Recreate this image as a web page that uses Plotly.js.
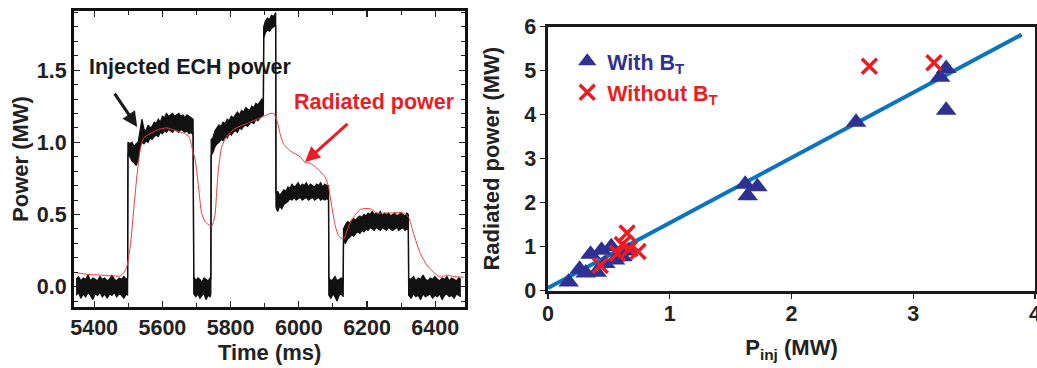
<!DOCTYPE html>
<html><head><meta charset="utf-8">
<script src="https://cdn.plot.ly/plotly-3.0.1.min.js"></script>
<style>html,body{margin:0;padding:0;background:#fff}#chart{width:1037px;height:368px}</style>
</head><body><div id="chart"></div>
<script>
// ---- Left panel: injected ECH power (noisy band read as upper / lower edge) ----
const echTime = [
 5347,5354,5361,5368,5375,5382,5389,5396,5403,5410,5417,5424,5431,5438,5445,5452,5459,5466,5473,5480,5487,5494,5498,
 5499,5505,5511,5517,5523,5529,5535,5540,5546,5552,5558,5564,5570,5576,5582,5588,5594,5600,5606,5612,5618,5624,5630,5636,5642,5648,5654,5660,5666,5672,5678,5684,5690,
 5692,5698,5704,5710,5716,5722,5728,5734,5740,5742,
 5743,5748,5754,5760,5766,5772,5778,5784,5790,5796,5802,5808,5814,5820,5826,5832,5838,5844,5850,5856,5862,5868,5874,5880,5886,5892,5896,
 5897,5902,5908,5914,5920,5926,5932,
 5933,5938,5944,5950,5956,5962,5968,5974,5980,5986,5992,5998,6004,6010,6016,6022,6028,6034,6040,6046,6052,6058,6064,6070,6076,6082,6087,
 6088,6094,6100,6106,6112,6118,6124,6130,
 6131,6137,6143,6149,6155,6161,6167,6173,6179,6185,6191,6197,6203,6209,6215,6221,6227,6233,6239,6245,6251,6257,6263,6269,6275,6281,6287,6293,6299,6305,6311,6317,6321,
 6322,6329,6336,6343,6350,6357,6364,6371,6378,6385,6392,6399,6406,6413,6420,6427,6434,6441,6448,6455,6462,6469,6475
];
const echHigh = [
 0.05,0.07,0.04,0.06,0.05,0.08,0.04,0.06,0.05,0.04,0.07,0.05,0.06,0.04,0.05,0.08,0.05,0.04,0.06,0.05,0.07,0.05,0.06,
 1.00,0.99,1.00,0.97,0.99,1.00,1.10,1.16,1.09,1.08,1.12,1.10,1.11,1.14,1.13,1.16,1.14,1.18,1.17,1.20,1.18,1.19,1.20,1.18,1.19,1.20,1.18,1.19,1.17,1.19,1.18,1.17,1.16,
 0.07,0.04,0.06,0.05,0.03,0.06,0.05,0.04,0.06,0.05,
 1.02,1.03,1.08,1.10,1.12,1.11,1.14,1.13,1.16,1.15,1.18,1.17,1.19,1.21,1.19,1.22,1.21,1.24,1.23,1.22,1.25,1.24,1.27,1.26,1.28,1.30,1.29,
 1.80,1.84,1.86,1.85,1.88,1.87,1.90,
 0.64,0.66,0.63,0.65,0.67,0.66,0.69,0.68,0.71,0.69,0.70,0.72,0.69,0.71,0.70,0.72,0.69,0.71,0.70,0.69,0.71,0.70,0.72,0.69,0.71,0.70,0.70,
 0.06,0.04,0.05,0.07,0.04,0.05,0.06,0.05,
 0.40,0.43,0.45,0.44,0.46,0.47,0.46,0.48,0.49,0.48,0.50,0.49,0.51,0.50,0.52,0.50,0.51,0.50,0.52,0.49,0.51,0.50,0.51,0.49,0.50,0.51,0.49,0.50,0.51,0.50,0.49,0.51,0.50,
 0.06,0.05,0.07,0.04,0.06,0.05,0.08,0.05,0.04,0.06,0.05,0.07,0.05,0.04,0.06,0.05,0.07,0.04,0.06,0.05,0.04,0.06,0.05
];
const echLow = [
 -0.06,-0.04,-0.08,-0.05,-0.07,-0.04,-0.06,-0.09,-0.05,-0.06,-0.04,-0.07,-0.05,-0.08,-0.05,-0.06,-0.04,-0.07,-0.05,-0.06,-0.08,-0.05,-0.06,
 0.92,0.90,0.87,0.86,0.84,0.88,0.97,1.00,0.99,1.01,1.00,1.03,1.02,1.04,1.05,1.04,1.07,1.06,1.08,1.07,1.09,1.08,1.07,1.09,1.08,1.07,1.09,1.08,1.07,1.08,1.06,1.07,1.05,
 -0.05,-0.07,-0.05,-0.08,-0.06,-0.05,-0.09,-0.06,-0.07,-0.05,
 0.91,0.93,0.97,0.99,1.00,1.02,1.01,1.04,1.03,1.06,1.05,1.07,1.08,1.07,1.10,1.09,1.11,1.12,1.11,1.13,1.14,1.13,1.16,1.15,1.17,1.18,1.19,
 1.72,1.76,1.78,1.77,1.79,1.80,1.81,
 0.55,0.52,0.56,0.54,0.57,0.58,0.59,0.61,0.60,0.62,0.60,0.61,0.62,0.60,0.61,0.62,0.60,0.61,0.62,0.60,0.61,0.62,0.60,0.61,0.60,0.61,0.60,
 -0.06,-0.08,-0.05,-0.07,-0.10,-0.06,-0.05,-0.07,
 0.31,0.30,0.33,0.34,0.36,0.35,0.37,0.38,0.37,0.39,0.38,0.40,0.39,0.41,0.40,0.39,0.41,0.40,0.39,0.41,0.40,0.39,0.41,0.40,0.39,0.40,0.41,0.39,0.40,0.41,0.39,0.40,0.39,
 -0.06,-0.08,-0.05,-0.07,-0.06,-0.09,-0.05,-0.07,-0.06,-0.05,-0.08,-0.06,-0.07,-0.05,-0.09,-0.06,-0.05,-0.07,-0.06,-0.08,-0.05,-0.06,-0.07
];
// ---- Left panel: radiated power ----
const radTime = [5347,5380,5418,5450,5476,5488,5496,5506,5515,5525,5535,5545,5564,5590,5613,5640,5665,5678,5686,5696,5706,5715,5725,5735,5745,5750,5755,5760,5765,5774,5789,5809,5857,5897,5916,5926,5936,5945,5955,5975,6004,6018,6033,6053,6077,6087,6097,6107,6117,6131,6146,6160,6180,6209,6229,6258,6307,6322,6336,6356,6375,6395,6415,6434,6454,6483];
const radPower = [0.097,0.085,0.08,0.075,0.074,0.10,0.14,0.28,0.51,0.76,0.95,1.03,1.06,1.09,1.10,1.08,1.06,1.04,0.97,0.88,0.69,0.51,0.45,0.43,0.42,0.45,0.51,0.69,0.83,0.97,1.04,1.09,1.14,1.18,1.20,1.20,1.15,1.06,0.99,0.94,0.90,0.86,0.855,0.82,0.76,0.69,0.55,0.42,0.35,0.33,0.42,0.48,0.535,0.54,0.51,0.51,0.51,0.48,0.37,0.23,0.15,0.10,0.065,0.08,0.07,0.065];

// ---- Right panel ----
const withBtX = [0.17,0.26,0.31,0.35,0.40,0.44,0.47,0.52,0.55,0.61,0.66,1.62,1.64,1.72,2.53,3.22,3.27,3.27];
const withBtY = [0.20,0.49,0.40,0.83,0.42,0.92,0.62,1.00,0.70,0.77,0.90,2.42,2.16,2.36,3.83,4.85,5.05,4.10];
const withoutBtX = [0.43,0.57,0.61,0.65,0.67,0.74,2.64,3.17];
const withoutBtY = [0.57,0.85,1.05,1.31,0.95,0.89,5.10,5.18];
const fitX = [0, 3.89];
const fitY = [0.06, 5.82];

const FONT = 'Liberation Sans, Arial, sans-serif';
const tf = {family: FONT, size: 21.5, color: '#222', weight: 700};
const ttf = {family: FONT, size: 22, color: '#222', weight: 700};

const traces = [
  {x: echTime, y: echLow, xaxis:'x', yaxis:'y', mode:'lines', line:{color:'#111', width:1.3}, showlegend:false, hoverinfo:'skip'},
  {x: echTime, y: echHigh, xaxis:'x', yaxis:'y', mode:'lines', line:{color:'#111', width:1.3}, fill:'tonexty', fillcolor:'#111', showlegend:false, hoverinfo:'skip'},
  {x: radTime, y: radPower, xaxis:'x', yaxis:'y', mode:'lines', line:{color:'#f03c3c', width:1, shape:'spline', smoothing:0.6}, showlegend:false},
  {x: fitX, y: fitY, xaxis:'x2', yaxis:'y2', mode:'lines', line:{color:'#0a74bd', width:4}, showlegend:false},
  {x: withBtX, y: withBtY, xaxis:'x2', yaxis:'y2', mode:'markers', name:'<span style="color:#2e3192">With B<sub>T</sub></span>',
   marker:{symbol:'triangle-up', size:18, color:'#2e3192', line:{width:0}}},
  {x: withoutBtX, y: withoutBtY, xaxis:'x2', yaxis:'y2', mode:'markers', name:'<span style="color:#ed1c24">Without B<sub>T</sub></span>',
   marker:{symbol:'x-thin', size:15, color:'#ed1c24', line:{width:3.5, color:'#ed1c24'}}}
];

const layout = {
  width:1037, height:368, margin:{l:0,r:0,t:0,b:0},
  paper_bgcolor:'#fff', plot_bgcolor:'#fff',
  font:{family:FONT, size:21, color:'#222'},
  showlegend:true,
  legend:{x:0.547, y:0.889, xanchor:'left', yanchor:'top', bgcolor:'rgba(0,0,0,0)', itemwidth:30, tracegroupgap:0,
          traceorder:'normal', font:{family:FONT, size:21.5, weight:700, color:'#2e3192'}},
  xaxis:{domain:[0.0714,0.4487], range:[5341,6488], anchor:'y', tick0:5400, dtick:200,
         ticks:'inside', ticklen:6, tickwidth:1.2, tickcolor:'#222',
         minor:{dtick:100, ticks:'inside', ticklen:4, tickwidth:1, tickcolor:'#222'},
         showline:true, linewidth:3, linecolor:'#111', mirror:'ticks', showgrid:false, zeroline:false,
         tickfont:tf, title:{text:'Time (ms)', font:ttf, standoff:3}},
  yaxis:{domain:[0.1666,0.9693], range:[-0.139,1.908], anchor:'x', tick0:0, dtick:0.5, tickformat:'.1f',
         ticks:'inside', ticklen:6, tickwidth:1.2, tickcolor:'#222',
         minor:{dtick:0.1, ticks:'inside', ticklen:4, tickwidth:1, tickcolor:'#222'},
         showline:true, linewidth:3, linecolor:'#111', mirror:'ticks', showgrid:false, zeroline:false,
         tickfont:tf, title:{text:'Power (MW)', font:ttf, standoff:3}},
  xaxis2:{domain:[0.5284,0.9981], range:[0,4], anchor:'y2', dtick:1,
          ticks:'outside', ticklen:5, tickwidth:1.5, tickcolor:'#222', ticklabeloverflow:'allow', ticklabelstandoff:-3,
          showline:true, linewidth:3, linecolor:'#1a1a1a', mirror:true, showgrid:false, zeroline:false,
          tickfont:tf, title:{text:'P<sub>inj</sub> (MW)', font:ttf, standoff:15}},
  yaxis2:{domain:[0.2101,0.9274], range:[0,6], anchor:'x2', dtick:1,
          ticks:'outside', ticklen:5, tickwidth:1.5, tickcolor:'#222',
          showline:true, linewidth:2.5, linecolor:'#1a1a1a', mirror:true, showgrid:false, zeroline:false,
          tickfont:tf, title:{text:'Radiated power (MW)', font:ttf, standoff:19}},
  annotations:[
    {xref:'x', yref:'y', x:5379, y:1.52, xanchor:'left', yanchor:'middle', showarrow:false,
     text:'Injected ECH power', font:{family:FONT, size:21.5, weight:700, color:'#1a1a1a'}},
    {xref:'x', yref:'y', x:5526, y:1.107, ax:-27, ay:-40, text:' ', showarrow:true,
     arrowhead:2, arrowsize:1, arrowwidth:3, arrowcolor:'#1a1a1a', standoff:0},
    {xref:'x', yref:'y', x:5980, y:1.28, xanchor:'left', yanchor:'middle', showarrow:false,
     text:'Radiated power', font:{family:FONT, size:21.5, weight:700, color:'#ed1c24'}},
    {xref:'x', yref:'y', x:6018, y:0.864, ax:47, ay:-42, text:' ', showarrow:true,
     arrowhead:2, arrowsize:1, arrowwidth:3, arrowcolor:'#ed1c24', standoff:0}
  ]
};

Plotly.newPlot('chart', traces, layout, {displayModeBar:false, staticPlot:true});
</script>
</body></html>
